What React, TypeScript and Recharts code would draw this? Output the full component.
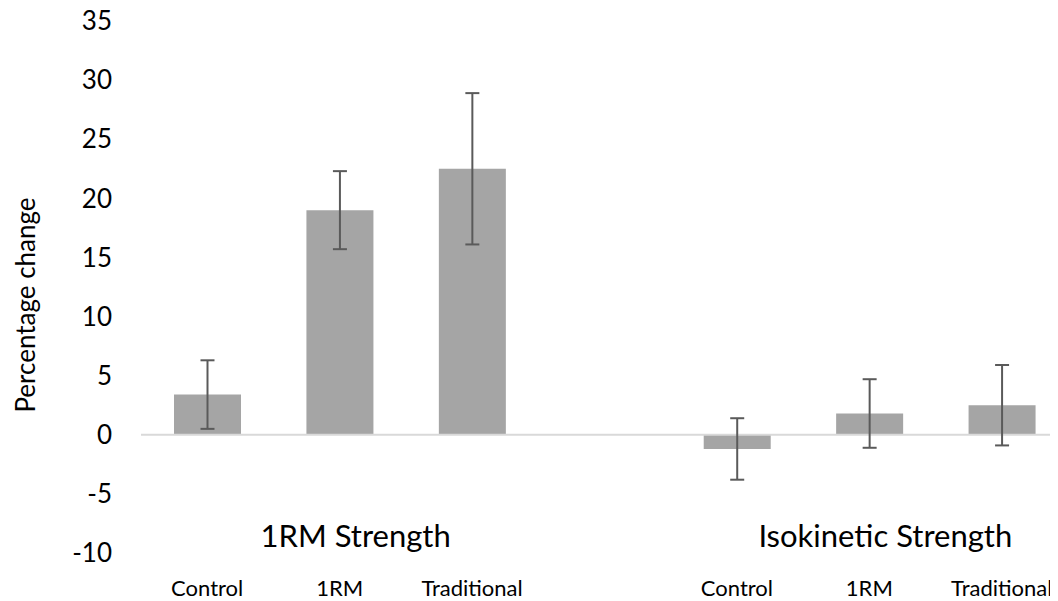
import { BarChart, Bar, XAxis, YAxis, ErrorBar, ReferenceLine, ReferenceDot } from "recharts";

const FONT = "Lato, 'Open Sans', sans-serif";

// x slots: three bars per group, one empty slot between groups
const slotIds = ["c1", "r1", "t1", "gap", "c2", "r2", "t2"];
const slotLabels = ["Control", "1RM", "Traditional", "", "Control", "1RM", "Traditional"];
const meanChange = [3.4, 19.0, 22.5, null, -1.2, 1.8, 2.5];
const errorRange = [2.9, 3.3, 6.4, null, 2.6, 2.9, 3.4];

const groupSlots = ["r1", "r2"];
const groupLabels = ["1RM Strength", "Isokinetic Strength"];

const yTicks = [-10, -5, 0, 5, 10, 15, 20, 25, 30, 35];

const data = slotIds.map((id, i) => ({
	id,
	label: slotLabels[i],
	value: meanChange[i],
	err: errorRange[i],
}));

export default function App() {
	return (
		<div style={{ width: 1050, height: 593, overflow: "hidden" }}>
			<BarChart
				width={1060}
				height={593}
				data={data}
				margin={{ top: 13, right: 0, bottom: 0, left: 0 }}
			>
				<XAxis
					dataKey="id"
					tickFormatter={(v: string) => slotLabels[slotIds.indexOf(v)]}
					axisLine={false}
					tickLine={false}
					tickSize={0}
					tickMargin={27}
					height={48}
					interval={0}
					tick={{ fontSize: 22, fill: "#000", fontFamily: FONT }}
				/>
				<YAxis
					domain={[-10, 35]}
					ticks={yTicks}
					interval={0}
					axisLine={false}
					tickLine={false}
					tickSize={0}
					tickMargin={29}
					width={133}
					tick={{ fontSize: 26, fill: "#000", fontFamily: FONT }}
					label={{
						value: "Percentage change",
						angle: -90,
						position: "center",
						dx: -49,
						dy: 18,
						style: { fontSize: 26, fill: "#000", fontFamily: FONT },
					}}
				/>
				<ReferenceLine y={0} stroke="#d9d9d9" strokeWidth={2} />
				<Bar dataKey="value" fill="#a5a5a5" barSize={67} isAnimationActive={false}>
					<ErrorBar dataKey="err" width={7} stroke="#5a5a5a" strokeWidth={2} />
				</Bar>
				{groupSlots.map((slot, i) => (
					<ReferenceDot
						key={slot}
						x={slot}
						y={-8.6}
						r={0}
						fill="none"
						stroke="none"
						label={{
							value: groupLabels[i],
							position: "center",
							dx: 16,
							style: { fontSize: 31, fill: "#000", fontFamily: FONT },
						}}
					/>
				))}
			</BarChart>
		</div>
	);
}
